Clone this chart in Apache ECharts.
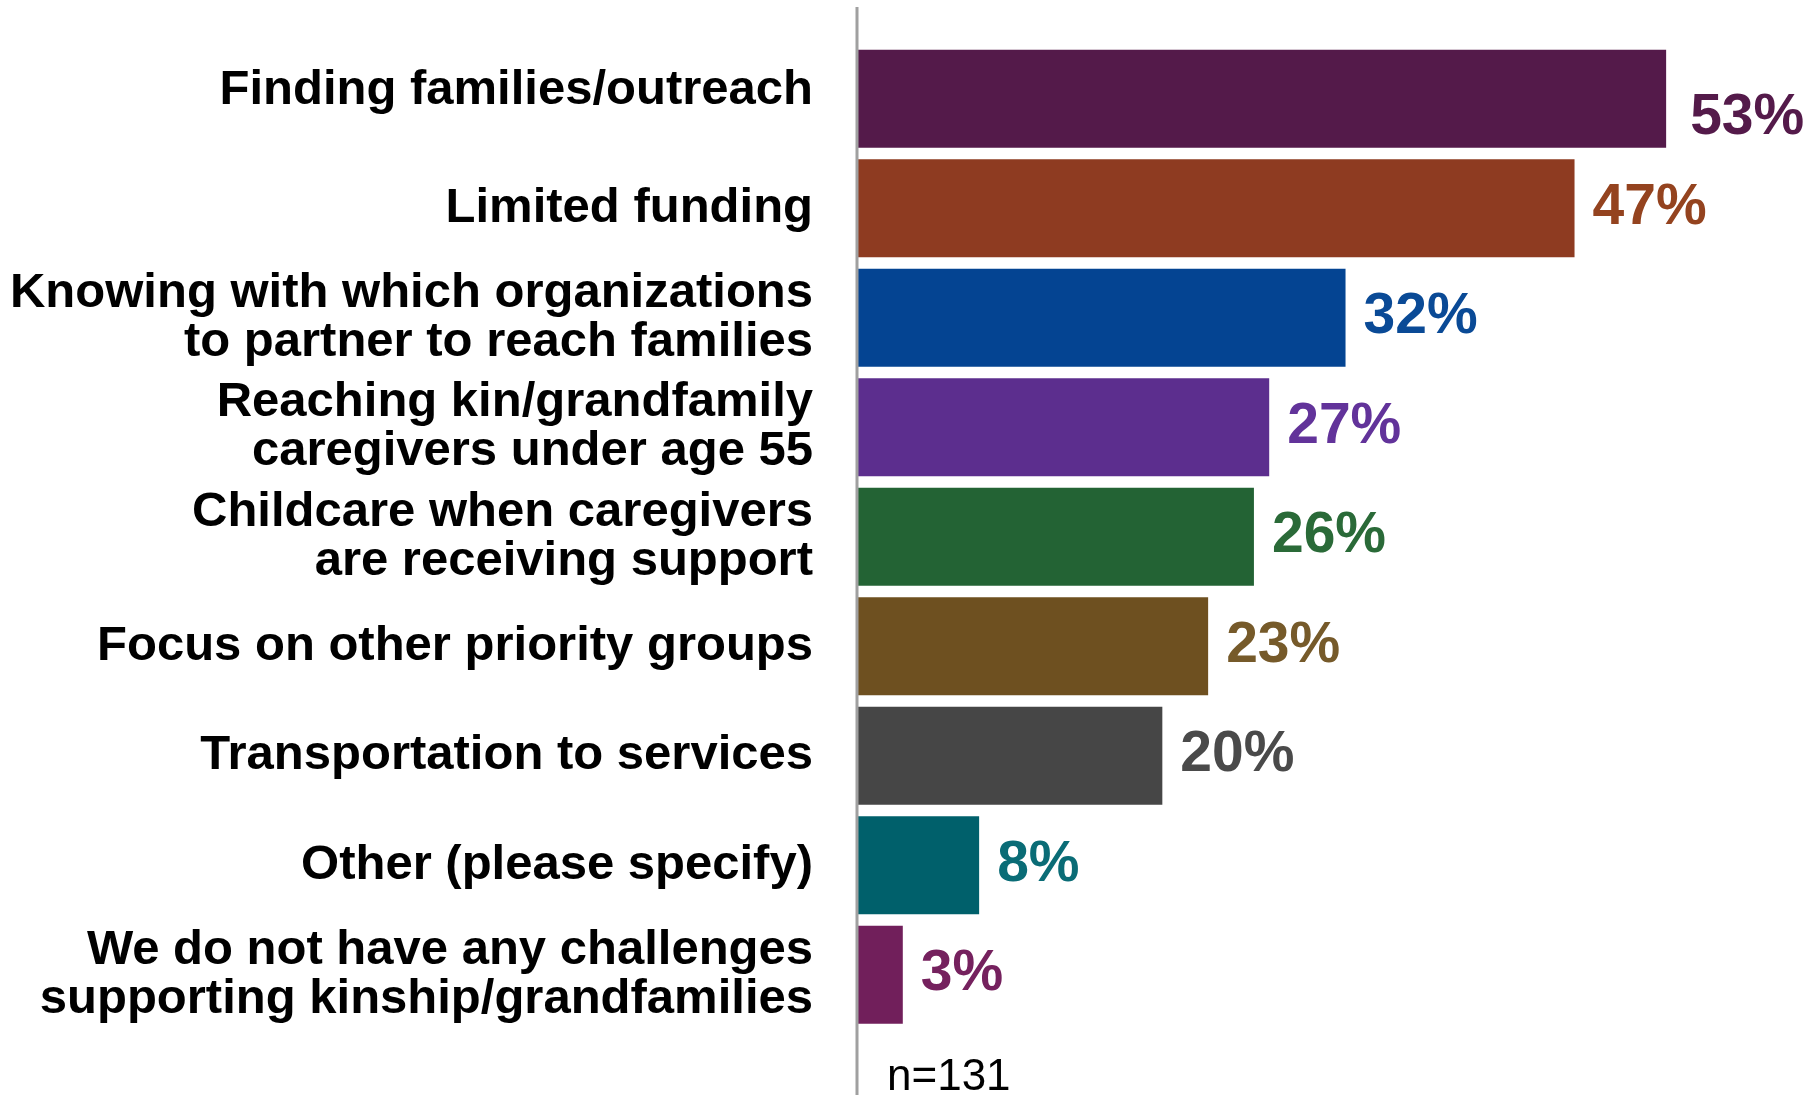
<!DOCTYPE html>
<html>
<head>
<meta charset="utf-8">
<style>
html,body{margin:0;padding:0;background:#fff;}
#chart{width:1814px;height:1095px;}
</style>
<script src="https://cdn.jsdelivr.net/npm/echarts@6/dist/echarts.min.js"></script>
</head>
<body>
<div id="chart"></div>
<script>
const categories = [
  "Finding families/outreach",
  "Limited funding",
  "Knowing with which organizations\nto partner to reach families",
  "Reaching kin/grandfamily\ncaregivers under age 55",
  "Childcare when caregivers\nare receiving support",
  "Focus on other priority groups",
  "Transportation to services",
  "Other (please specify)",
  "We do not have any challenges\nsupporting kinship/grandfamilies"
];
const values = [53, 47, 32, 27, 26, 23, 20, 8, 3];
const barColors = ["#541A4A", "#8E3B21", "#044492", "#5C2E8E", "#236334", "#6E5020", "#464646", "#00606B", "#711F5B"];
const labelColors = ["#541A4A", "#94431F", "#0A4A96", "#62339A", "#2A6A38", "#765A2A", "#4A4A4A", "#0A6C76", "#75215E"];
const noteText = "n=131";

const FONT = 'Liberation Sans, Arial, sans-serif';
const chart = echarts.init(document.getElementById('chart'));
const data = values.map((v, i) => {
  const item = {
    value: v,
    itemStyle: { color: barColors[i] },
    label: { color: labelColors[i] }
  };
  if (i === 0) item.label.offset = [6, 20];
  return item;
});

chart.setOption({
  animation: false,
  backgroundColor: '#fff',
  grid: { left: 857, right: 41, top: 44, bottom: 65.5, containLabel: false },
  xAxis: {
    type: 'value', min: 0, max: 60, show: false
  },
  yAxis: {
    type: 'category',
    data: categories,
    inverse: true,
    axisLine: { show: false },
    axisTick: { show: false },
    axisLabel: {
      margin: 44,
      color: '#000',
      fontFamily: FONT,
      fontWeight: 'bold',
      fontSize: 49,
      lineHeight: 49,
      align: 'right',
      formatter: function (v, i) { return i === 0 ? '{up|' + v + '}' : v; },
      rich: {
        up: { fontFamily: FONT, fontWeight: 'bold', fontSize: 49, lineHeight: 49, color: '#000', padding: [0, 0, 16, 0] }
      }
    }
  },
  series: [{
    type: 'bar',
    data: data,
    barCategoryGap: '10.5%',
    label: {
      show: true,
      position: 'right',
      distance: 18,
      formatter: '{c}%',
      fontFamily: FONT,
      fontWeight: 'bold',
      fontSize: 57
    }
  }],
  graphic: [
    { type: 'line', shape: { x1: 857, y1: 7, x2: 857, y2: 1095 }, style: { stroke: '#A0A0A0', lineWidth: 3 }, z: 100 },
    { type: 'text', left: 887, top: 1056, style: { text: noteText, fill: '#000', fontFamily: FONT, fontSize: 44 } }
  ]
});
</script>
</body>
</html>
